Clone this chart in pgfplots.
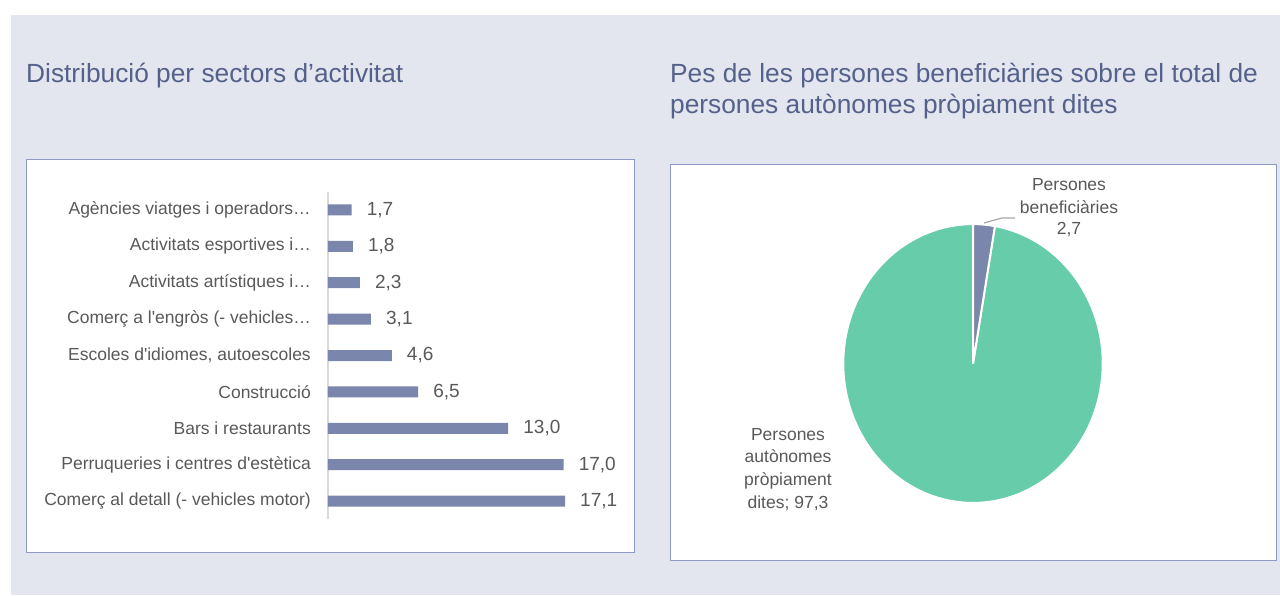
\documentclass[border=0pt]{standalone}
\usepackage{fontspec}
\setmainfont{Liberation Sans}
\usepackage{pgfplots}
\pgfplotsset{compat=1.18}

\definecolor{panelbg}{HTML}{E3E6EE}
\definecolor{boxline}{HTML}{8F9AC2}
\definecolor{titlecol}{HTML}{54618A}
\definecolor{textgray}{HTML}{595959}
\definecolor{barcol}{HTML}{7A86AB}
\definecolor{piegreen}{HTML}{66CCAA}
\definecolor{axisgray}{HTML}{D9D9D9}
\definecolor{leadgray}{HTML}{A6A6A6}

\newcommand\titlefont{\fontsize{26.3}{31}\selectfont}
\newcommand\labfont{\fontsize{17.5}{21}\selectfont}
\newcommand\valfont{\fontsize{19}{22}\selectfont}
\newcommand\q{\textquotesingle}

% pie values
\def\valA{2.7}
\def\valB{97.3}

\begin{document}
\begin{tikzpicture}[x=1pt,y=1pt]
\fill[white] (0,0) rectangle (1280,595);
\fill[panelbg] (11,0) rectangle (1280,580);
\filldraw[fill=white,draw=boxline,line width=1pt] (26,43) rectangle (634,435);
\filldraw[fill=white,draw=boxline,line width=1pt] (670,35) rectangle (1276,430);

\node[anchor=base west,inner sep=0pt,text=titlecol,font=\titlefont] at (26,512.3) {Distribució per sectors d’activitat};
\node[anchor=base west,inner sep=0pt,text=titlecol,font=\titlefont] at (670,512.3) {Pes de les persones beneficiàries sobre el total de};
\node[anchor=base west,inner sep=0pt,text=titlecol,font=\titlefont] at (670,481) {persones autònomes pròpiament dites};

% bar chart
\begin{axis}[at={(328pt,75.8pt)},anchor=south west,scale only axis,
  width=277.2pt,height=327.4pt,xbar,bar width=11pt,
  xmin=0,xmax=20,ymin=-0.5,ymax=8.5,clip=false,
  axis x line=none,axis y line*=left,
  axis line style={draw=axisgray,line width=1.5pt},
  ytick={0,...,8},major tick length=0pt,ytick style={draw=none},
  yticklabels={Comerç al detall (- vehicles motor),Perruqueries i centres d\q estètica,Bars i restaurants,Construcció,{Escoles d\q idiomes, autoescoles},Comerç a l\q engròs (- vehicles…,Activitats artístiques i…,Activitats esportives i…,Agències viatges i operadors…},
  yticklabel style={font=\labfont,text=textgray,inner sep=0pt,xshift=-17pt},
  point meta=x,
  nodes near coords={\pgfmathprintnumber[fixed,fixed zerofill,precision=1,use comma,assume math mode=true]{\pgfplotspointmeta}},
  every node near coord/.append style={anchor=west,inner sep=0pt,xshift=15pt,font=\valfont,text=textgray}]
\addplot[fill=barcol,draw=none] coordinates {(17.1,0) (17.0,1) (13.0,2) (6.5,3) (4.6,4) (3.1,5) (2.3,6) (1.8,7) (1.7,8)};
\end{axis}

% pie chart
\pgfmathsetmacro\angA{90-3.6*\valA}
\pgfmathsetmacro\angB{\angA-3.6*\valB}
\begin{axis}[at={(973pt,231.5pt)},anchor=center,scale only axis,hide axis,
  width=259.4pt,height=278.8pt,xmin=-1,xmax=1,ymin=-1,ymax=1,clip=false]
\filldraw[fill=piegreen,draw=white,line width=2pt] (axis cs:0,0) -- (axis cs:{cos(\angA)},{sin(\angA)}) arc[start angle=\angA,end angle=\angB,x radius=129.7pt,y radius=139.4pt] -- cycle;
\filldraw[fill=barcol,draw=white,line width=2pt] (axis cs:0,0) -- (axis cs:0,1) arc[start angle=90,end angle=\angA,x radius=129.7pt,y radius=139.4pt] -- cycle;
\end{axis}
\draw[leadgray,line width=1.2pt] (984,372) -- (1002,377) -- (1015,377);
\begin{scope}[every node/.style={anchor=base,inner sep=0pt,font=\labfont,text=textgray}]
\node at (1069,404) {Persones};
\node at (1069,381) {beneficiàries};
\node at (1069,360) {2,7};
\node at (788,155) {Persones};
\node at (788,132.3) {autònomes};
\node at (788,109.7) {pròpiament};
\node at (788,87) {dites; 97,3};
\end{scope}
\end{tikzpicture}
\end{document}
